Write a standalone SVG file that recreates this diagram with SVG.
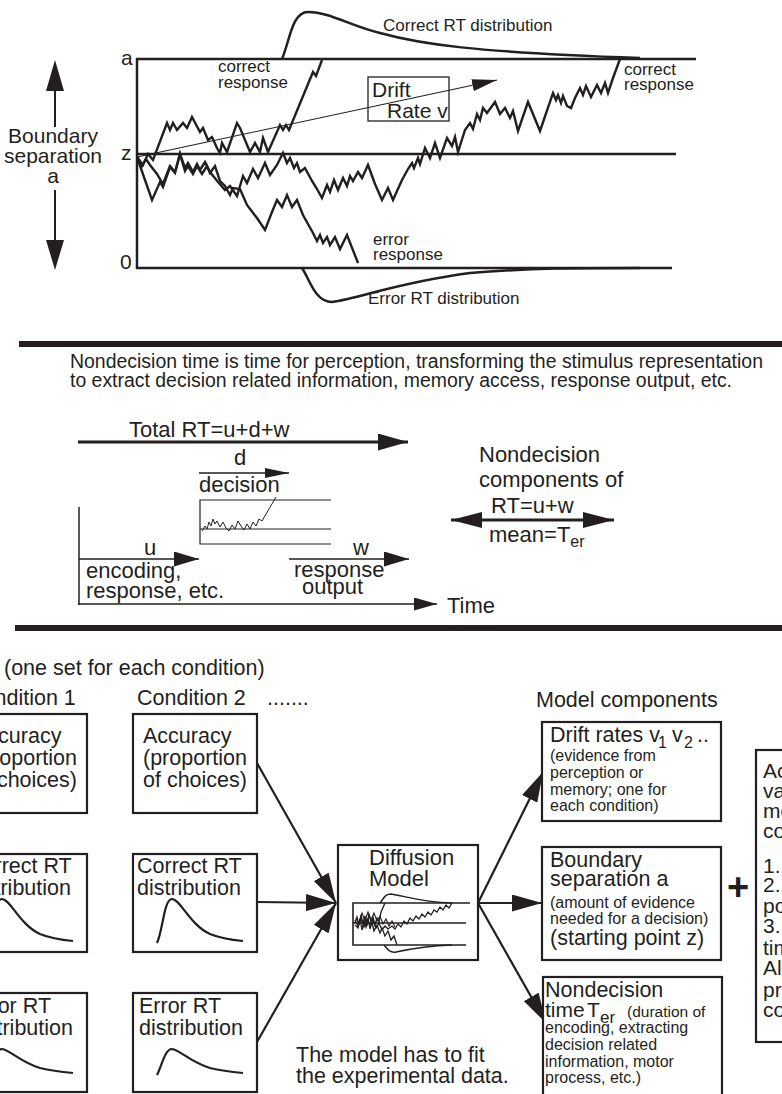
<svg xmlns="http://www.w3.org/2000/svg" width="782" height="1094" viewBox="0 0 782 1094">
<style>
text{font-family:"Liberation Sans",Arial,Helvetica,sans-serif;fill:#231f20}
.f16{font-size:16px}.f17{font-size:17px}.f19{font-size:19.5px}.f21{font-size:21px}.f22{font-size:21.5px}.m22{font-size:22px}
.ln{fill:none;stroke:#231f20;stroke-width:2.5;stroke-linejoin:miter}
.wk{fill:none;stroke:#231f20;stroke-width:2.4;stroke-linejoin:miter;stroke-miterlimit:10}
.thin{fill:none;stroke:#231f20;stroke-width:1.2}
.box{fill:#fff;stroke:#231f20;stroke-width:2.2}
.con{fill:none;stroke:#231f20;stroke-width:2.2}
.tri{fill:#231f20}
</style>
<defs>
<marker id="big" viewBox="0 0 30 17" refX="30" refY="8.5" markerWidth="30" markerHeight="17" markerUnits="userSpaceOnUse" orient="auto"><path class="tri" d="M0,0 L30,8.5 L0,17 Z"/></marker>
<marker id="mid" viewBox="0 0 25 15" refX="25" refY="7.5" markerWidth="25" markerHeight="15" markerUnits="userSpaceOnUse" orient="auto"><path class="tri" d="M0,0 L25,7.5 L0,15 Z"/></marker>
<marker id="dbl" viewBox="0 0 31 16" refX="31" refY="8" markerWidth="31" markerHeight="16" markerUnits="userSpaceOnUse" orient="auto-start-reverse"><path class="tri" d="M0,0 L31,8 L0,16 Z"/></marker>
<marker id="sm" viewBox="0 0 24 10" refX="24" refY="5" markerWidth="24" markerHeight="10" markerUnits="userSpaceOnUse" orient="auto"><path class="tri" d="M0,0 L24,5 L0,10 Z"/></marker>
<marker id="drift" viewBox="0 0 25 12" refX="25" refY="6" markerWidth="25" markerHeight="12" markerUnits="userSpaceOnUse" orient="auto"><path class="tri" d="M0,0 L25,6 L0,12 Z"/></marker>
<marker id="time" viewBox="0 0 23 13" refX="23" refY="6.5" markerWidth="23" markerHeight="13" markerUnits="userSpaceOnUse" orient="auto"><path class="tri" d="M0,0 L23,6.5 L0,13 Z"/></marker>
</defs>

<!-- ===== Top panel: diffusion process ===== -->
<g id="top-panel">
  <g id="boundary-arrow">
    <polygon class="tri" points="55,60 46,91 64,91"/>
    <line x1="55" y1="91" x2="55" y2="127" stroke="#231f20" stroke-width="2"/>
    <line x1="55" y1="190" x2="55" y2="240" stroke="#231f20" stroke-width="2"/>
    <polygon class="tri" points="46,240 64,240 55,270"/>
    <text class="f21" x="53" y="143" text-anchor="middle">Boundary</text>
    <text class="f21" x="53" y="163" text-anchor="middle">separation</text>
    <text class="f21" x="53" y="183" text-anchor="middle">a</text>
  </g>
  <g id="axes">
    <text class="f21" x="121" y="65">a</text>
    <text class="f21" x="121" y="160">z</text>
    <text class="f21" x="120" y="269">0</text>
    <line class="ln" x1="137" y1="58" x2="137" y2="269"/>
    <line class="ln" x1="136" y1="59" x2="696" y2="59"/>
    <line class="ln" x1="136" y1="154" x2="676" y2="154"/>
    <line class="ln" x1="136" y1="268" x2="672" y2="268"/>
  </g>
  <g id="rt-distributions">
    <path class="ln" d="M282,59 C290,40 292,12 308,12 C330,12 350,26 380,33 C420,44 470,52 640,58"/>
    <text class="f17" x="383" y="31">Correct RT distribution</text>
    <path class="ln" d="M302,268 C310,280 315,302 332,302 C360,298 400,282 470,273 C530,268 580,268 640,268"/>
    <text class="f17" x="368" y="304">Error RT distribution</text>
  </g>
  <g id="drift-rate">
    <line x1="137" y1="157" x2="497" y2="80" stroke="#231f20" stroke-width="1.1" marker-end="url(#drift)"/>
    <rect x="368" y="77" width="81" height="44" fill="none" stroke="#231f20" stroke-width="1.3"/>
    <text class="f21" x="372" y="97">Drift</text>
    <text class="f21" x="387" y="118">Rate v</text>
  </g>
  <g id="walks">
    <polyline class="wk" points="137,157 143,165 148,154 153,160 167,123 170,130 173,123 177,130 183,123 187,128 192,117 200,132 203,128 208,140 212,137 217,148 220,153 222,143 227,152 237,123 240,128 250,152 255,143 260,152 263,138 268,152 280,125 283,130 286,125 289,130 313,72 316,76 322,60"/>
    <polyline class="wk" points="137,157 142,166 146,159 150,165 157,174 163,184 170,166 175,172 180,154 185,168 188,163 193,172 197,164 200,170 205,162 210,172 218,182 225,190 230,186 237,196 243,176 247,183 253,169 258,178 265,163 270,175 277,165 283,153 287,163 290,158 294,168 297,163 300,172 305,168 312,181 317,189 322,198 327,185 330,192 334,180 338,190 343,178 347,186 350,176 353,181 358,172 362,178 368,165 375,184 382,200 388,188 393,200 402,180 408,169 412,163 414,168 418,158 420,164 425,148 430,158 435,143 440,158 447,138 452,146 455,137 458,152 465,130 470,123 473,129 477,114 480,120 483,108 487,113 495,102 500,114 505,108 510,118 513,111 518,131 528,102 540,131 553,93 556,100 558,95 561,103 563,96 567,106 571,108 575,98 580,88 583,95 586,86 591,97 597,85 601,93 605,83 608,93 613,78 620,59"/>
    <polyline class="wk" points="137,157 145,180 152,200 160,182 163,187 170,167 175,173 180,154 185,171 188,166 193,174 197,166 202,174 207,166 210,173 215,166 220,181 225,186 230,195 233,188 240,189 247,205 257,218 265,230 272,212 277,200 282,207 287,195 292,207 297,200 303,215 313,233 317,241 320,235 323,243 327,237 330,245 335,237 340,249 347,235 358,263"/>
  </g>
  <g id="response-labels">
    <text class="f17" x="218" y="72">correct</text>
    <text class="f17" x="218" y="88">response</text>
    <text class="f17" x="624" y="75">correct</text>
    <text class="f17" x="624" y="90">response</text>
    <text class="f17" x="373" y="245">error</text>
    <text class="f17" x="373" y="260">response</text>
  </g>
</g>

<!-- ===== Separators ===== -->
<g id="separators">
  <rect x="19" y="341" width="763" height="6" fill="#231f20"/>
  <rect x="15" y="625" width="767" height="6" fill="#231f20"/>
</g>

<!-- ===== Middle panel: nondecision time ===== -->
<g id="middle-panel">
  <text class="f19" x="70" y="368" textLength="693" lengthAdjust="spacingAndGlyphs">Nondecision time is time for perception, transforming the stimulus representation</text>
  <text class="f19" x="70" y="387" textLength="662" lengthAdjust="spacingAndGlyphs">to extract decision related information, memory access, response output, etc.</text>
  <g id="total-rt">
    <text class="m22" x="129" y="437">Total RT=u+d+w</text>
    <line x1="78" y1="442" x2="408" y2="442" stroke="#231f20" stroke-width="3" marker-end="url(#big)"/>
  </g>
  <g id="decision">
    <text class="m22" x="240" y="465" text-anchor="middle">d</text>
    <line x1="199" y1="473" x2="289" y2="473" stroke="#231f20" stroke-width="1.3" marker-end="url(#sm)"/>
    <text class="m22" x="199" y="492">decision</text>
    <path class="thin" d="M331,500 L200,500 L200,544 L331,544 M200,529 L331,529"/>
    <polyline fill="none" stroke="#231f20" stroke-width="1" points="202,531 205,526 207,529 209,522 211,526 213,519 215,524 217,521 220,527 223,522 226,528 229,531 232,525 235,529 238,521 241,526 244,530 247,524 250,529 253,522 256,526 259,519 262,521 276,497"/>
  </g>
  <g id="time-axis">
    <line x1="79" y1="507" x2="79" y2="605" stroke="#231f20" stroke-width="1.5"/>
    <line x1="78" y1="604" x2="437" y2="604" stroke="#231f20" stroke-width="1.5" marker-end="url(#time)"/>
    <text class="m22" x="447" y="613">Time</text>
  </g>
  <g id="encoding">
    <text class="m22" x="150" y="555" text-anchor="middle">u</text>
    <line x1="79" y1="559" x2="199" y2="559" stroke="#231f20" stroke-width="1.5" marker-end="url(#mid)"/>
    <text class="m22" x="86" y="578">encoding,</text>
    <text class="m22" x="86" y="598">response, etc.</text>
  </g>
  <g id="response-output">
    <text class="m22" x="361" y="555" text-anchor="middle">w</text>
    <line x1="289" y1="559" x2="409" y2="559" stroke="#231f20" stroke-width="1.5" marker-end="url(#mid)"/>
    <text class="m22" x="294" y="577">response</text>
    <text class="m22" x="302" y="594">output</text>
  </g>
  <g id="nondecision-components">
    <text class="m22" x="479" y="462">Nondecision</text>
    <text class="m22" x="479" y="487">components of</text>
    <text class="m22" x="491" y="513">RT=u+w</text>
    <line x1="451" y1="520" x2="614" y2="520" stroke="#231f20" stroke-width="3" marker-start="url(#dbl)" marker-end="url(#dbl)"/>
    <text class="m22" x="489" y="542">mean=T<tspan font-size="16" dy="5">er</tspan></text>
  </g>
</g>

<!-- ===== Bottom panel: data and model ===== -->
<g id="bottom-labels">
  <text class="f22" x="4" y="675">(one set for each condition)</text>
  <text class="f22" x="-33" y="705">Condition 1</text>
  <text class="f22" x="137" y="705">Condition 2</text>
  <text class="f22" x="267" y="705">.......</text>
  <text class="f22" x="536" y="707">Model components</text>
  <text class="f22" x="296" y="1062">The model has to fit</text>
  <text class="f22" x="296" y="1083">the experimental data.</text>
</g>

<g id="connectors">
  <line class="con" x1="257" y1="763" x2="336" y2="903" marker-end="url(#big)"/>
  <line class="con" x1="257" y1="902" x2="336" y2="903" marker-end="url(#big)"/>
  <line class="con" x1="257" y1="1042" x2="336" y2="903" marker-end="url(#big)"/>
  <line class="con" x1="478" y1="903" x2="543" y2="772" marker-end="url(#big)"/>
  <line class="con" x1="478" y1="903" x2="542" y2="903" marker-end="url(#big)"/>
  <line class="con" x1="478" y1="903" x2="546" y2="1023" marker-end="url(#big)"/>
</g>

<g id="c1-accuracy">
  <rect class="box" x="-37" y="714" width="124" height="99"/>
  <text class="f22" x="-27" y="743">Accuracy</text>
  <text class="f22" x="-27" y="765">(proportion</text>
  <text class="f22" x="-27" y="787">of choices)</text>
</g>
<g id="c1-correct">
  <rect class="box" x="-37" y="854" width="124" height="98"/>
  <text class="f22" x="-33" y="873">Correct RT</text>
  <text class="f22" x="-33" y="895">distribution</text>
  <path class="con" d="M-13,943 C-7,930 -6,899 2,899 C10,899 20,925 40,934 C52,939 62,940 73,941"/>
</g>
<g id="c1-error">
  <rect class="box" x="-37" y="993" width="124" height="99"/>
  <text class="f22" x="-31" y="1013">Error RT</text>
  <text class="f22" x="-31" y="1035">distribution</text>
  <path class="con" d="M-13,1075 C-8,1065 -5,1049 2,1049 C10,1050 20,1062 40,1068 C52,1071 62,1072 73,1073"/>
</g>
<g id="c2-accuracy">
  <rect class="box" x="133" y="714" width="124" height="99"/>
  <text class="f22" x="143" y="743">Accuracy</text>
  <text class="f22" x="143" y="765">(proportion</text>
  <text class="f22" x="143" y="787">of choices)</text>
</g>
<g id="c2-correct">
  <rect class="box" x="133" y="854" width="124" height="98"/>
  <text class="f22" x="137" y="873">Correct RT</text>
  <text class="f22" x="137" y="895">distribution</text>
  <path class="con" d="M157,943 C163,930 164,899 172,899 C180,899 190,925 210,934 C222,939 232,940 243,941"/>
</g>
<g id="c2-error">
  <rect class="box" x="133" y="993" width="124" height="99"/>
  <text class="f22" x="139" y="1013">Error RT</text>
  <text class="f22" x="139" y="1035">distribution</text>
  <path class="con" d="M157,1075 C162,1065 165,1049 172,1049 C180,1050 190,1062 210,1068 C222,1071 232,1072 243,1073"/>
</g>

<g id="diffusion-model">
  <rect class="box" x="338" y="845" width="140" height="115"/>
  <text class="m22" x="369" y="865">Diffusion</text>
  <text class="m22" x="369" y="886">Model</text>
  <path fill="none" stroke="#231f20" stroke-width="1.6" d="M470,903 L353,903 L353,945 L466,945 M353,923 L466,923"/>
  <path fill="none" stroke="#231f20" stroke-width="1.4" d="M380,903 C384,898 385,894 391,894 C405,896 420,902 452,903"/>
  <path fill="none" stroke="#231f20" stroke-width="1.4" d="M384,945 C388,950 390,953 396,952 C410,949 425,946 452,945"/>
  <polyline fill="none" stroke="#231f20" stroke-width="1.3" points="355,923 357,917 359,925 361,915 363,924 365,916 367,926 369,914 371,922 373,917 375,925 377,918 379,922 381,912 385,903"/>
  <polyline fill="none" stroke="#231f20" stroke-width="1.3" points="355,925 358,928 360,919 362,930 364,921 366,927 368,918 370,929 372,922 374,931 377,925 380,933 382,928 385,936 388,931 391,940 394,936 397,945"/>
  <polyline fill="none" stroke="#231f20" stroke-width="1.3" points="355,920 358,926 361,918 364,927 367,919 370,925 373,920 376,928 379,923 382,930 385,926 388,929 392,926 395,929 398,924 401,927 404,921 407,924 410,918 413,921 416,916 419,919 422,914 425,917 428,912 431,915 434,910 437,912 440,907 443,910 446,905 449,908 452,903"/>
  <polyline fill="none" stroke="#231f20" stroke-width="1.1" points="356,918 359,923 362,913 365,921 368,912 371,920 374,913 377,921 380,916 383,924 386,919 389,926 392,921 395,927"/>
</g>

<g id="drift-rates">
  <rect class="box" x="542" y="722" width="179" height="99"/>
  <text class="f22" x="550" y="742">Drift rates v</text>
  <text class="f16" x="658" y="748">1</text>
  <text class="f22" x="672" y="742">v</text>
  <text class="f16" x="684" y="748">2</text>
  <text class="f22" x="697" y="742">..</text>
  <text class="f16" x="550" y="761">(evidence from</text>
  <text class="f16" x="550" y="778">perception or</text>
  <text class="f16" x="550" y="795">memory; one for</text>
  <text class="f16" x="550" y="811">each condition)</text>
</g>
<g id="boundary-separation">
  <rect class="box" x="542" y="847" width="179" height="113"/>
  <text class="f22" x="550" y="867">Boundary</text>
  <text class="f22" x="550" y="886">separation a</text>
  <text class="f16" x="550" y="908">(amount of evidence</text>
  <text class="f16" x="550" y="924">needed for a decision)</text>
  <text class="f22" x="550" y="945">(starting point z)</text>
</g>
<g id="nondecision-time">
  <rect class="box" x="543" y="977" width="179" height="130"/>
  <text class="f22" x="545" y="997">Nondecision</text>
  <text x="545" y="1017" font-size="21px">time</text>
  <text x="587" y="1017" font-size="21px">T</text>
  <text x="600" y="1023" font-size="17px">er</text>
  <text x="627" y="1017" font-size="15.5px">(duration of</text>
  <text class="f16" x="545" y="1033">encoding, extracting</text>
  <text class="f16" x="545" y="1050">decision related</text>
  <text class="f16" x="545" y="1067">information, motor</text>
  <text class="f16" x="545" y="1083">process, etc.)</text>
</g>
<g id="plus">
  <text x="738" y="900" font-size="38" font-weight="bold" text-anchor="middle">+</text>
</g>
<g id="additional-variability">
  <rect class="box" x="756" y="750" width="60" height="292"/>
  <text class="f21" x="763" y="778">Ac</text>
  <text class="f21" x="763" y="798">va</text>
  <text class="f21" x="763" y="818">mo</text>
  <text class="f21" x="763" y="838">co</text>
  <text class="f21" x="763" y="873">1.</text>
  <text class="f21" x="763" y="892">2.</text>
  <text class="f21" x="763" y="913">po</text>
  <text class="f21" x="763" y="933">3.</text>
  <text class="f21" x="763" y="955">tim</text>
  <text class="f21" x="763" y="975">Als</text>
  <text class="f21" x="763" y="997">pro</text>
  <text class="f21" x="763" y="1017">co</text>
</g>
</svg>
